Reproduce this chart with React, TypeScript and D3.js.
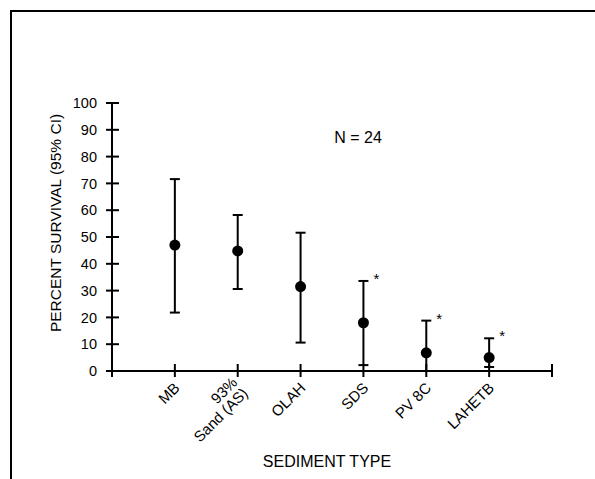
import React, { useEffect, useRef } from 'react';
import * as d3 from 'd3';

// sediment categories (multi-line labels split with \n)
const categories = ['MB', '93%\nSand (AS)', 'OLAH', 'SDS', 'PV 8C', 'LAHETB'];
const survival = [47, 44.8, 31.5, 18, 6.8, 5];
const ciUpper = [71.6, 58.2, 51.6, 33.6, 18.8, 12.2];
const ciLower = [21.8, 30.6, 10.6, 2.2, 0, 1.5];
const significant = [false, false, false, true, true, true];
const yTicks = [0, 10, 20, 30, 40, 50, 60, 70, 80, 90, 100];

const FONT = "'Liberation Sans', Arial, sans-serif";

const App = () => {
  const svgRef = useRef<SVGSVGElement>(null);

  useEffect(() => {
    if (!svgRef.current) return;
    const svg = d3.select(svgRef.current);
    svg.selectAll('*').remove();

    const width = 595;
    const height = 479;

    // outer frame (right/bottom edges fall outside the picture)
    svg.append('rect')
      .attr('x', 11).attr('y', 11)
      .attr('width', width + 20).attr('height', height + 20)
      .attr('fill', 'none').attr('stroke', '#000').attr('stroke-width', 2);

    const x = d3.scaleLinear().domain([0, categories.length + 1]).range([112, 552]);
    const y = d3.scaleLinear().domain([0, 100]).range([371, 103]);

    const g = svg.append('g');

    // y axis
    g.append('line')
      .attr('x1', x(0)).attr('x2', x(0))
      .attr('y1', y(0)).attr('y2', y(100))
      .attr('stroke', '#000').attr('stroke-width', 2);
    g.selectAll('.ytick').data(yTicks).enter().append('line')
      .attr('x1', x(0) - 6).attr('x2', x(0) + 7)
      .attr('y1', d => y(d)).attr('y2', d => y(d))
      .attr('stroke', '#000').attr('stroke-width', 2);
    g.selectAll('.ylabel').data(yTicks).enter().append('text')
      .attr('x', 97).attr('y', d => y(d))
      .attr('dy', '0.36em')
      .attr('text-anchor', 'end')
      .attr('font-family', FONT).attr('font-size', '14.5px')
      .attr('fill', '#000')
      .text(d => d);

    // x axis
    g.append('line')
      .attr('x1', x(0)).attr('x2', x(categories.length + 1))
      .attr('y1', y(0)).attr('y2', y(0))
      .attr('stroke', '#000').attr('stroke-width', 2);
    g.selectAll('.xtick').data(d3.range(0, categories.length + 2)).enter().append('line')
      .attr('x1', d => x(d)).attr('x2', d => x(d))
      .attr('y1', y(0) - 7).attr('y2', y(0) + 6)
      .attr('stroke', '#000').attr('stroke-width', 2);

    // rotated category labels
    const lineH = 15;
    categories.forEach((c, i) => {
      const lines = c.split('\n');
      const t = g.append('text')
        .attr('transform', `translate(${x(i + 1) + 2},${y(0) + 14}) rotate(-45)`)
        .attr('text-anchor', 'end')
        .attr('font-family', FONT).attr('font-size', '15px')
        .attr('fill', '#000');
      lines.forEach((ln, j) => {
        t.append('tspan')
          .attr('x', 0)
          .attr('y', (j - (lines.length - 1) / 2) * lineH)
          .attr('dy', '0.36em')
          .text(ln);
      });
    });

    // error bars
    const idx = d3.range(categories.length);
    g.selectAll('.bar').data(idx).enter().append('line')
      .attr('x1', i => x(i + 1)).attr('x2', i => x(i + 1))
      .attr('y1', i => y(ciLower[i])).attr('y2', i => y(ciUpper[i]))
      .attr('stroke', '#000').attr('stroke-width', 2);
    g.selectAll('.capTop').data(idx).enter().append('line')
      .attr('x1', i => x(i + 1) - 5).attr('x2', i => x(i + 1) + 5)
      .attr('y1', i => y(ciUpper[i])).attr('y2', i => y(ciUpper[i]))
      .attr('stroke', '#000').attr('stroke-width', 2);
    g.selectAll('.capBot').data(idx.filter(i => ciLower[i] > 0)).enter().append('line')
      .attr('x1', i => x(i + 1) - 5).attr('x2', i => x(i + 1) + 5)
      .attr('y1', i => y(ciLower[i])).attr('y2', i => y(ciLower[i]))
      .attr('stroke', '#000').attr('stroke-width', 2);

    // points
    g.selectAll('.pt').data(idx).enter().append('circle')
      .attr('cx', i => x(i + 1)).attr('cy', i => y(survival[i]))
      .attr('r', 5.5)
      .attr('fill', '#000');

    // significance stars
    g.selectAll('.star').data(idx.filter(i => significant[i])).enter().append('text')
      .attr('x', i => x(i + 1) + 13).attr('y', i => y(ciUpper[i]) + 3)
      .attr('text-anchor', 'middle')
      .attr('font-family', FONT).attr('font-size', '15px')
      .attr('fill', '#000')
      .text('*');

    // N annotation
    svg.append('text')
      .attr('x', 358).attr('y', 143)
      .attr('text-anchor', 'middle')
      .attr('font-family', FONT).attr('font-size', '16px')
      .attr('fill', '#000')
      .text('N = 24');

    // axis titles
    svg.append('text')
      .attr('transform', 'translate(61,223) rotate(-90)')
      .attr('text-anchor', 'middle')
      .attr('font-family', FONT).attr('font-size', '15.5px')
      .attr('fill', '#000')
      .text('PERCENT SURVIVAL (95% CI)');

    svg.append('text')
      .attr('x', 327).attr('y', 467)
      .attr('text-anchor', 'middle')
      .attr('font-family', FONT).attr('font-size', '16px')
      .attr('fill', '#000')
      .text('SEDIMENT TYPE');
  }, []);

  return (
    <svg
      ref={svgRef}
      width={595}
      height={479}
      style={{ position: 'absolute', left: 0, top: 0, background: '#fff' }}
    />
  );
};

export default App;
